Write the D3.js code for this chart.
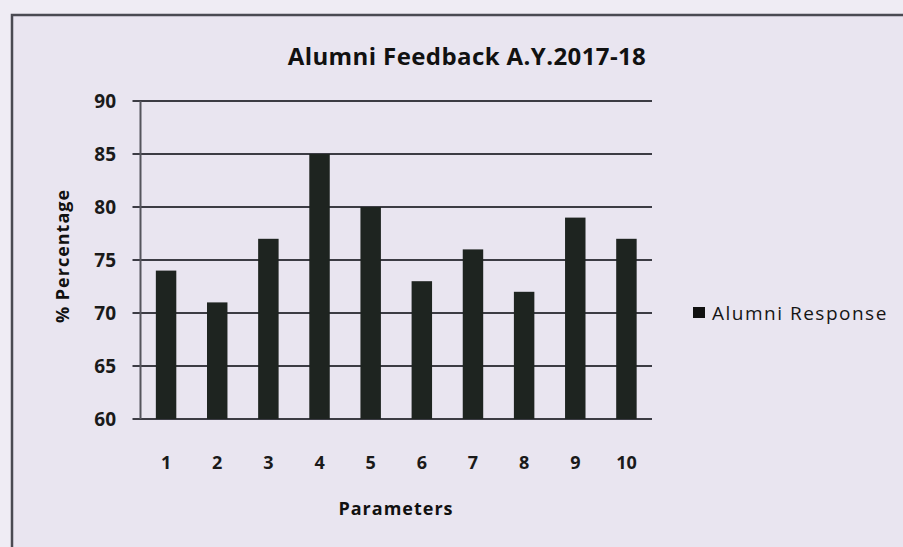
<!DOCTYPE html>
<html>
<head>
<meta charset="utf-8">
<script src="https://cdn.jsdelivr.net/npm/d3@7"></script>
<style>
  body { margin: 0; background: #efecf4; }
  text { font-family: "Open Sans", "Liberation Sans", sans-serif; }
</style>
</head>
<body>
<div id="chart"></div>
<script>
// values
var parameters = ["1", "2", "3", "4", "5", "6", "7", "8", "9", "10"];
var alumniResponse = [74, 71, 77, 85, 80, 73, 76, 72, 79, 77];
var yTicks = [60, 65, 70, 75, 80, 85, 90];
var seriesName = "Alumni Response";
var chartTitle = "Alumni Feedback A.Y.2017-18";

(function() {
    var width = 903,
        height = 547;

    var svg = d3.select("#chart")
        .append("svg")
        .attr("width", width)
        .attr("height", height);

    // page background + chart frame
    svg.append("rect")
        .attr("width", width).attr("height", height)
        .attr("fill", "#efecf4");
    svg.append("rect")
        .attr("x", 12).attr("y", 15)
        .attr("width", width).attr("height", height)
        .attr("fill", "#e9e5f0")
        .attr("stroke", "#4a4a52")
        .attr("stroke-width", 2.5);

    var plot = { left: 140.5, right: 652, top: 101, bottom: 419 };

    var x = d3.scaleBand()
        .domain(parameters)
        .range([plot.left, plot.right])
        .paddingInner(0.6)
        .paddingOuter(0.3);

    var y = d3.scaleLinear()
        .domain([60, 90])
        .range([plot.bottom, plot.top]);

    // gridlines
    svg.append("g")
        .selectAll("line")
        .data(yTicks)
        .enter().append("line")
        .attr("x1", plot.left - 8)
        .attr("x2", plot.right)
        .attr("y1", function(d) { return y(d); })
        .attr("y2", function(d) { return y(d); })
        .attr("stroke", "#3c3c44")
        .attr("stroke-width", 2);

    // y axis line
    svg.append("line")
        .attr("x1", plot.left).attr("x2", plot.left)
        .attr("y1", plot.top).attr("y2", plot.bottom)
        .attr("stroke", "#55555c")
        .attr("stroke-width", 2);

    // bars
    svg.append("g")
        .selectAll("rect")
        .data(alumniResponse)
        .enter().append("rect")
        .attr("x", function(d, i) { return x(parameters[i]); })
        .attr("y", function(d) { return y(d); })
        .attr("width", x.bandwidth())
        .attr("height", function(d) { return y(60) - y(d); })
        .attr("fill", "#1e2420");

    // y tick labels
    svg.append("g")
        .selectAll("text")
        .data(yTicks)
        .enter().append("text")
        .attr("x", 116)
        .attr("y", function(d) { return y(d); })
        .attr("dy", "0.35em")
        .attr("text-anchor", "end")
        .attr("font-size", 19)
        .attr("font-weight", "bold")
        .attr("fill", "#1a1a1a")
        .text(function(d) { return d; });

    // x tick labels
    svg.append("g")
        .selectAll("text")
        .data(parameters)
        .enter().append("text")
        .attr("x", function(d) { return x(d) + x.bandwidth() / 2; })
        .attr("y", 469)
        .attr("text-anchor", "middle")
        .attr("font-size", 18)
        .attr("font-weight", "bold")
        .attr("fill", "#1a1a1a")
        .text(function(d) { return d; });

    // title
    svg.append("text")
        .attr("x", 467).attr("y", 65)
        .attr("text-anchor", "middle")
        .attr("font-size", 24)
        .attr("font-weight", "bold")
        .attr("letter-spacing", 0.4)
        .attr("fill", "#111")
        .text(chartTitle);

    // axis titles
    svg.append("text")
        .attr("x", 396).attr("y", 515)
        .attr("text-anchor", "middle")
        .attr("font-size", 18)
        .attr("font-weight", "bold")
        .attr("letter-spacing", 1)
        .attr("fill", "#111")
        .text("Parameters");

    svg.append("text")
        .attr("transform", "translate(69,256) rotate(-90)")
        .attr("text-anchor", "middle")
        .attr("font-size", 18)
        .attr("font-weight", "bold")
        .attr("letter-spacing", 1)
        .attr("fill", "#111")
        .text("% Percentage");

    // legend
    svg.append("rect")
        .attr("x", 693).attr("y", 307)
        .attr("width", 12).attr("height", 11)
        .attr("fill", "#111");
    svg.append("text")
        .attr("x", 712).attr("y", 320)
        .attr("font-size", 19)
        .attr("letter-spacing", 1.5)
        .attr("fill", "#151515")
        .text(seriesName);
})();
</script>
</body>
</html>
